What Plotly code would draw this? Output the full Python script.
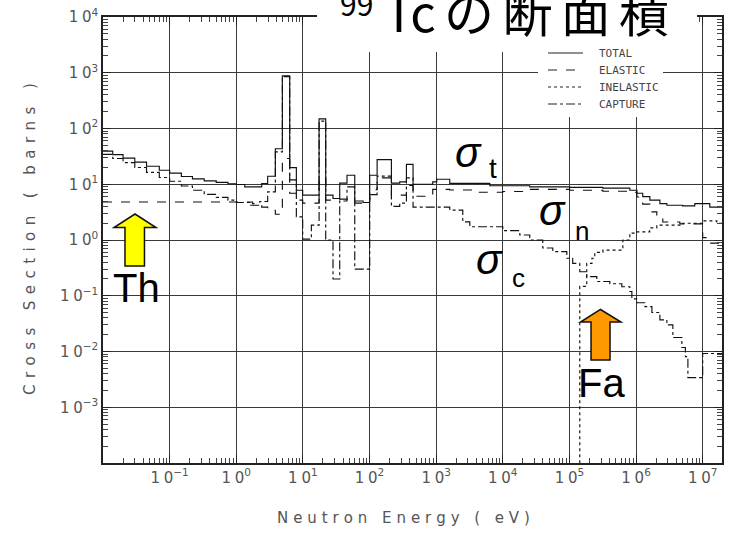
import plotly.graph_objects as go

# ---------------- data ----------------
total_E = [0.01, 0.014, 0.02, 0.03, 0.045, 0.07, 0.1, 0.15, 0.22, 0.33, 0.5, 0.75, 1.0, 1.34,
           2.41, 2.96, 3.86, 4.92, 6.34, 7.98, 9.93, 17.5, 22.0, 28.3, 35.7, 45.9, 60.0, 79.9,
           100.7, 130, 213, 284, 358, 450, 889, 1020, 1600, 6380, 25400, 101000, 318000,
           807000, 1.03e6, 1.26e6, 1.61e6, 2.28e6, 2.9e6, 5.0e6, 7.6e6, 1.28e7, 2.0e7]
total_S = [39.3, 34.0, 29.5, 25.0, 21.0, 17.8, 15.8, 13.8, 12.5, 11.5, 10.8, 10.2, 9.9, 8.95,
           10.3, 13.9, 43.4, 883, 19.9, 7.8, 6.4, 149, 6.4, 5.55, 10.5, 14.5, 5.0, 4.71,
           14.5, 27.6, 10.5, 11.0, 22.8, 10.0, 11.0, 12.3, 10.4, 9.4, 9.0, 8.8, 8.5,
           7.8, 6.9, 6.0, 5.2, 4.5, 4.2, 4.1, 4.5, 3.9, 3.9]

elastic_E = [0.01, 1.76, 2.41, 2.96, 3.86, 4.92, 6.34, 7.98, 9.93, 17.5, 22.0, 28.3, 35.7,
             45.9, 60.0, 100.7, 130, 213, 284, 358, 450, 889, 1600, 4070, 10000, 25400,
             101000, 318000, 807000, 1.03e6, 1.26e6, 1.61e6, 2.05e6, 2.52e6, 4.55e6,
             6.43e6, 1.0e7, 1.28e7, 2.0e7]
elastic_S = [4.8, 4.5, 3.9, 3.4, 2.9, 29, 6.9, 5.2, 4.6, 12.8, 5.2, 5.3, 5.4,
             5.4, 4.6, 8.0, 13.0, 6.4, 6.4, 9.5, 6.1, 8.1, 7.9, 7.2, 7.4, 8.1,
             7.8, 7.5, 7.2, 5.9, 4.4, 3.2, 2.6, 2.1, 1.95,
             1.95, 1.1, 0.88, 0.88]

inelastic_E = [1.3e5, 1.43e5, 1.82e5, 2.18e5, 2.4e5, 3.18e5, 6.34e5, 8.07e5, 1.03e6,
               1.6e6, 2.05e6, 4.55e6, 1.0e7, 1.63e7, 2.0e7]
inelastic_S = [1e-6, 0.147, 0.38, 0.47, 0.6, 0.66, 1.0, 1.33, 1.4,
               1.65, 1.85, 2.0, 2.2, 2.0, 2.0]

capture_E = [0.01, 0.014, 0.02, 0.03, 0.045, 0.07, 0.1, 0.15, 0.22, 0.33, 0.5, 0.75, 1.0,
             1.6, 2.25, 2.96, 3.86, 4.92, 6.34, 7.98, 9.93, 13.4, 17.5, 22.0, 28.3, 35.7,
             45.9, 60.0, 100.7, 130, 213, 284, 358, 450, 1600, 2510, 3200, 10000, 18000,
             25400, 39800, 56300, 91400, 112000, 143000, 182000, 258000, 404000, 612000,
             807000, 865000, 1.03e6, 1.36e6, 1.73e6, 2.28e6, 2.9e6, 3.57e6, 4.87e6, 5.5e6,
             6.0e6, 1.0e7, 2.0e7]
capture_S = [34.3, 29.0, 24.5, 20.0, 16.3, 13.2, 11.3, 9.3, 7.8, 6.6, 5.8, 5.2, 4.7,
             4.2, 4.9, 7.3, 38, 850, 12, 2.6, 1.04, 1.85, 136, 1.0, 0.2, 5.0,
             9.0, 0.3, 6.5, 14, 4.0, 4.6, 13, 3.9, 3.43, 2.12, 1.73, 1.47, 1.23,
             1.0, 0.72, 0.62, 0.47, 0.38, 0.27, 0.22, 0.18, 0.164, 0.145,
             0.119, 0.088, 0.075, 0.064, 0.05, 0.037, 0.030, 0.0178, 0.0118, 0.0081,
             0.0034, 0.0092, 0.0092]

series_names = ["TOTAL", "ELASTIC", "INELASTIC", "CAPTURE"]
series_dash = ["solid", "dash", "dot", "dashdot"]

x_tickvals = [1e-1, 1e0, 1e1, 1e2, 1e3, 1e4, 1e5, 1e6, 1e7]
x_exps = ["−1", "0", "1", "2", "3", "4", "5", "6", "7"]
y_tickvals = [1e-3, 1e-2, 1e-1, 1e0, 1e1, 1e2, 1e3, 1e4]
y_exps = ["−3", "−2", "−1", "0", "1", "2", "3", "4"]
x_ticktext = ["1\u20050<sup>" + e + "</sup>" for e in x_exps]
y_ticktext = ["1\u20050<sup>" + e + "</sup>" for e in y_exps]

x_minor = [m * 10.0 ** k for k in range(-2, 8) for m in range(2, 10)]
y_minor = [m * 10.0 ** k for k in range(-4, 4) for m in range(2, 10)]

# ---------------- geometry helpers ----------------
W, H = 730, 534
L, R, T, B = 103, 8, 17, 71
PW, PH = W - L - R, H - T - B


def fx(px):
    return (px - L) / PW


def fy(py):
    return (H - B - py) / PH


def spaced(s, sep="\u2004"):
    return sep.join(s)


fig = go.Figure()
line_col = "#111111"
for xs, ys, nm, ds in zip([total_E, elastic_E, inelastic_E, capture_E],
                          [total_S, elastic_S, inelastic_S, capture_S],
                          series_names, series_dash):
    fig.add_trace(go.Scatter(x=xs, y=ys, mode="lines", line_shape="hv", name=nm,
                             showlegend=False,
                             line=dict(color=line_col, width=1.15, dash=ds)))

tick_font = dict(family="DejaVu Sans", size=15, color="#555555")
common = dict(type="log", tickmode="array", ticks="inside", ticklen=8, tickcolor="#222",
              showgrid=True, gridcolor="#3a3a3a", gridwidth=1, showline=True,
              linecolor="#222", linewidth=1.5, mirror="allticks", zeroline=False,
              tickfont=tick_font, automargin=False)
fig.update_xaxes(range=[-2.0, 7.29], tickvals=x_tickvals, ticktext=x_ticktext,
                 minor=dict(tickmode="array", tickvals=x_minor, ticks="inside", ticklen=5,
                            tickcolor="#444", showgrid=False), **common)
fig.update_yaxes(range=[-4, 4], tickvals=y_tickvals, ticktext=y_ticktext,
                 minor=dict(tickmode="array", tickvals=y_minor, ticks="inside", ticklen=5,
                            tickcolor="#444", showgrid=False), **common)

shapes = [
    dict(type="rect", xref="paper", yref="paper", x0=fx(317), x1=fx(697), y0=fy(52), y1=fy(-10),
         fillcolor="white", line=dict(width=0), layer="above"),
    dict(type="rect", xref="paper", yref="paper", x0=fx(538), x1=fx(663), y0=fy(117), y1=fy(40),
         fillcolor="white", line=dict(width=0), layer="above"),
]


def arrow_path(pts):
    return "M " + " L ".join(f"{fx(a):.4f},{fy(b):.4f}" for a, b in pts) + " Z"


yellow_pts = [(135, 214), (156, 227.5), (144.5, 227.5), (144.5, 266), (125, 266), (125, 227.5),
              (114, 227.5)]
orange_pts = [(600.5, 309.5), (621, 322), (610, 322), (610, 360), (591, 360), (591, 322),
              (580.5, 322)]
shapes.append(dict(type="path", xref="paper", yref="paper", path=arrow_path(yellow_pts),
                   fillcolor="#FFFF00", line=dict(color="#111", width=1.5), layer="above"))
shapes.append(dict(type="path", xref="paper", yref="paper", path=arrow_path(orange_pts),
                   fillcolor="#FF9900", line=dict(color="#111", width=1.5), layer="above"))

ann = []


def add_text(text, px, py, size, family="Liberation Sans", color="black", xanchor="center",
             **kw):
    ann.append(dict(text=text, x=fx(px), y=fy(py), xref="paper", yref="paper", showarrow=False,
                    xanchor=xanchor, yanchor="middle",
                    font=dict(family=family, size=size, color=color), **kw))


# legend (drawn by hand to match the compact row spacing)
for i, (nm, ds) in enumerate(zip(series_names, series_dash)):
    row_y = 53 + 17 * i
    shapes.append(dict(type="line", xref="paper", yref="paper", x0=fx(548), x1=fx(583),
                       y0=fy(row_y), y1=fy(row_y), layer="above",
                       line=dict(color="#222", width=1.15, dash=ds)))
    add_text(nm, 597, row_y, 11, family="DejaVu Sans Mono", color="#444444", xanchor="left")

add_text("Tc\u2006の\u2006断\u2006面\u2006積", 526, 10, 50, family="Noto Sans CJK JP")
add_text("99", 356, 3, 30, family="Noto Sans CJK JP")
add_text("<i>σ</i>", 468, 152, 42)
add_text("t", 493, 168, 28)
add_text("<i>σ</i>", 552, 210, 42)
add_text("n", 582, 231, 26)
add_text("<i>σ</i>", 490, 259, 42)
add_text("c", 518, 278, 26)
add_text("Th", 136, 288, 40)
add_text("Fa", 601, 383, 40)
add_text(spaced("Cross Section ( barns )", "\u2004\u200a"), 30, 239, 15, family="DejaVu Sans",
         color="#555555", textangle=-90)
add_text(spaced("Neutron Energy ( eV)"), 403, 518, 15, family="DejaVu Sans", color="#555555")

fig.update_layout(
    width=W, height=H, margin=dict(l=L, r=R, t=T, b=B, pad=0, autoexpand=False),
    plot_bgcolor="white", paper_bgcolor="white",
    shapes=shapes, annotations=ann,
    showlegend=False,
)

fig.write_html("out.html", config={"displayModeBar": False},
               post_script="document.body.style.margin='0';")
